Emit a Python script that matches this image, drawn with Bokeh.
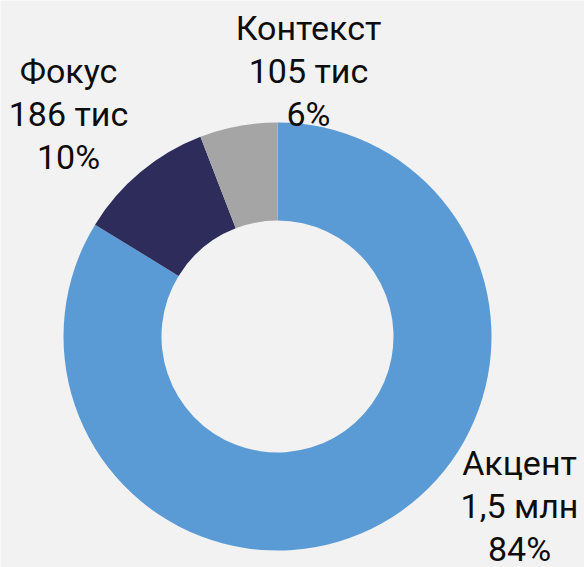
import math
from bokeh.plotting import figure
from bokeh.models import Range1d, ColumnDataSource
from bokeh.core.properties import value
from bokeh.embed import file_html
from bokeh.resources import INLINE

# ---- data ----
categories = ["Акцент", "Фокус", "Контекст"]
values = [1500, 186, 105]            # thousands
value_labels = ["1,5 млн", "186 тис", "105 тис"]
colors = ["#5B9BD5", "#2D2C5A", "#A5A5A5"]

W, H = 584, 567

def fx(xr):
    return xr

def fy(yr):
    return H - yr

total = sum(values)
starts, ends = [], []
cum = 0.0
for v in values:
    starts.append(math.pi / 2 - 2 * math.pi * cum / total)
    cum += v
    ends.append(math.pi / 2 - 2 * math.pi * cum / total)
pcts = [f"{round(v / total * 100)}%" for v in values]

p = figure(width=W, height=H, output_backend="svg", toolbar_location=None,
           x_range=Range1d(0, W), y_range=Range1d(0, H), min_border=0)
p.axis.visible = False
p.grid.visible = False
p.outline_line_color = None
p.background_fill_color = "#F2F2F2"
p.border_fill_color = "#F2F2F2"

cx, cy = fx(277), fy(336)
src = ColumnDataSource(dict(start=starts, end=ends, color=colors, cat=categories))
p.annular_wedge(x=cx, y=cy, inner_radius=116, outer_radius=214,
                start_angle="start", end_angle="end", direction="clock",
                fill_color="color", line_color=None, source=src)

# label centres (middle line), reference pixel coords
label_pos = {"Акцент": (519, 505), "Фокус": (68, 113), "Контекст": (308, 70)}
spacing = 43
xs, ys, texts = [], [], []
for cat, vl, pc in zip(categories, value_labels, pcts):
    x0, y0 = label_pos[cat]
    for i, t in enumerate([cat, vl, pc]):
        xs.append(fx(x0))
        ys.append(fy(y0 + (i - 1) * spacing))
        texts.append(t)

p.text(x=xs, y=ys, text=texts, text_align="center", text_baseline="middle",
       text_font=value("Roboto"), text_font_size="34px", text_color="#0D0D0D")

open("out.html", "w").write(file_html(p, INLINE))
